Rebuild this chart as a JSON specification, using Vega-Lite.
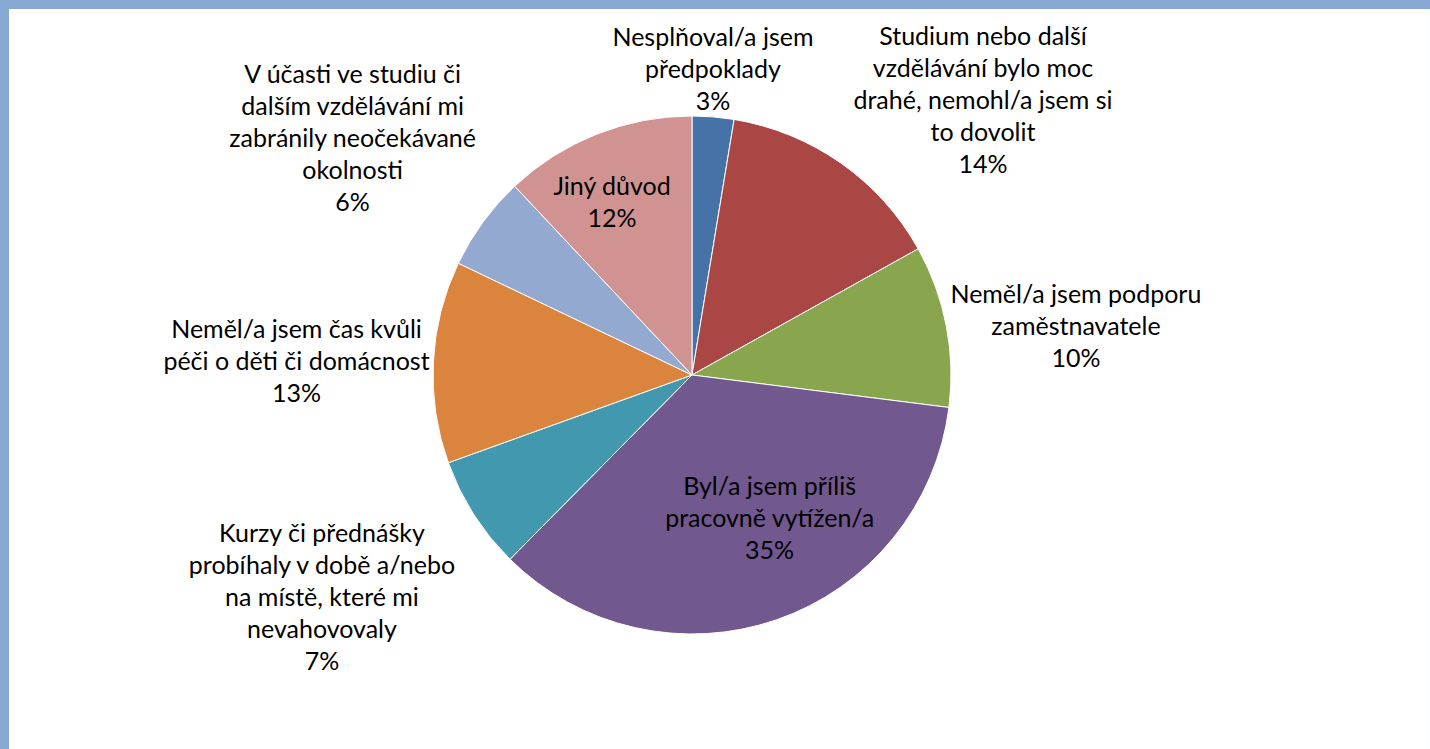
{
  "$schema": "https://vega.github.io/schema/vega-lite/v6.json",
  "background": "#88A9D4",
  "padding": {"left": 9, "top": 9, "right": 0.01, "bottom": 0.01},
  "spacing": 0,
  "config": {
    "view": {"stroke": null, "fill": "white"},
    "concat": {"spacing": 0},
    "text": {"font": "Lato", "fontSize": 25, "lineBreak": "\n", "lineHeight": 32, "align": "center", "baseline": "middle", "color": "#000000"}
  },
  "datasets": {
    "reasons": [
      {"order": 1, "reason": "Nesplňoval/a jsem\npředpoklady", "value": 2.6},
      {"order": 2, "reason": "Studium nebo další\nvzdělávání bylo moc\ndrahé, nemohl/a jsem si\nto dovolit", "value": 14.3},
      {"order": 3, "reason": "Neměl/a jsem podporu\nzaměstnavatele", "value": 10.1},
      {"order": 4, "reason": "Byl/a jsem příliš\npracovně vytížen/a", "value": 35.4},
      {"order": 5, "reason": "Kurzy či přednášky\nprobíhaly v době a/nebo\nna místě, které mi\nnevahovovaly", "value": 7.1},
      {"order": 6, "reason": "Neměl/a jsem čas kvůli\npéči o děti či domácnost", "value": 12.6},
      {"order": 7, "reason": "V účasti ve studiu či\ndalším vzdělávání mi\nzabránily neočekávané\nokolnosti", "value": 5.9},
      {"order": 8, "reason": "Jiný důvod", "value": 12.0}
    ]
  },
  "hconcat": [
    {
      "width": 1366,
      "height": 740,
      "view": {"fill": "white", "stroke": null},
      "data": {"name": "reasons"},
      "transform": [
        {"stack": "value", "groupby": [], "sort": [{"field": "order"}], "as": ["v0", "v1"]},
        {"calculate": "(datum.v0 + datum.v1) / 2", "as": "mid"},
        {"calculate": "datum.reason + '\\n' + format(datum.value, '.0f') + '%'", "as": "txt"}
      ],
      "layer": [
        {
          "mark": {"type": "arc", "radius": 259, "stroke": "white", "strokeWidth": 1, "y": {"expr": "height/2 - 4"}},
          "encoding": {
            "theta": {"field": "v0", "type": "quantitative", "scale": {"domain": [0, 100]}},
            "theta2": {"field": "v1"},
            "color": {"field": "order", "type": "ordinal", "legend": null,
              "scale": {"range": ["#4572A7", "#AA4643", "#89A54E", "#71588F", "#4198AF", "#DB843D", "#93A9CF", "#D19392"]}}
          }
        },
        {
          "transform": [{"filter": "datum.order == 1"}],
          "mark": {"type": "text", "radius": 306, "dx": -4, "dy": -36},
          "encoding": {"theta": {"field": "mid", "type": "quantitative", "scale": {"domain": [0, 100]}}, "text": {"field": "txt"}}
        },
        {
          "transform": [{"filter": "datum.order == 2"}],
          "mark": {"type": "text", "radius": 400, "dx": 61, "dy": -15},
          "encoding": {"theta": {"field": "mid", "type": "quantitative", "scale": {"domain": [0, 100]}}, "text": {"field": "txt"}}
        },
        {
          "transform": [{"filter": "datum.order == 3"}],
          "mark": {"type": "text", "radius": 387, "dx": 4, "dy": -10},
          "encoding": {"theta": {"field": "mid", "type": "quantitative", "scale": {"domain": [0, 100]}}, "text": {"field": "txt"}}
        },
        {
          "transform": [{"filter": "datum.order == 4"}],
          "mark": {"type": "text", "radius": 164, "dx": 24, "dy": -47},
          "encoding": {"theta": {"field": "mid", "type": "quantitative", "scale": {"domain": [0, 100]}}, "text": {"field": "txt"}}
        },
        {
          "transform": [{"filter": "datum.order == 5"}],
          "mark": {"type": "text", "radius": 432, "dx": -6, "dy": -78},
          "encoding": {"theta": {"field": "mid", "type": "quantitative", "scale": {"domain": [0, 100]}}, "text": {"field": "txt"}}
        },
        {
          "transform": [{"filter": "datum.order == 6"}],
          "mark": {"type": "text", "radius": 396, "dx": 0, "dy": -29},
          "encoding": {"theta": {"field": "mid", "type": "quantitative", "scale": {"domain": [0, 100]}}, "text": {"field": "txt"}}
        },
        {
          "transform": [{"filter": "datum.order == 7"}],
          "mark": {"type": "text", "radius": 413, "dx": -6, "dy": -60},
          "encoding": {"theta": {"field": "mid", "type": "quantitative", "scale": {"domain": [0, 100]}}, "text": {"field": "txt"}}
        },
        {
          "transform": [{"filter": "datum.order == 8"}],
          "mark": {"type": "text", "radius": 190, "dx": -10, "dy": -15},
          "encoding": {"theta": {"field": "mid", "type": "quantitative", "scale": {"domain": [0, 100]}}, "text": {"field": "txt"}}
        }
      ]
    },
    {
      "width": 54.99,
      "height": 740,
      "view": {"fill": "white", "stroke": null},
      "data": {"values": [{}]},
      "mark": {"type": "text"},
      "encoding": {"text": {"value": ""}}
    }
  ]
}
